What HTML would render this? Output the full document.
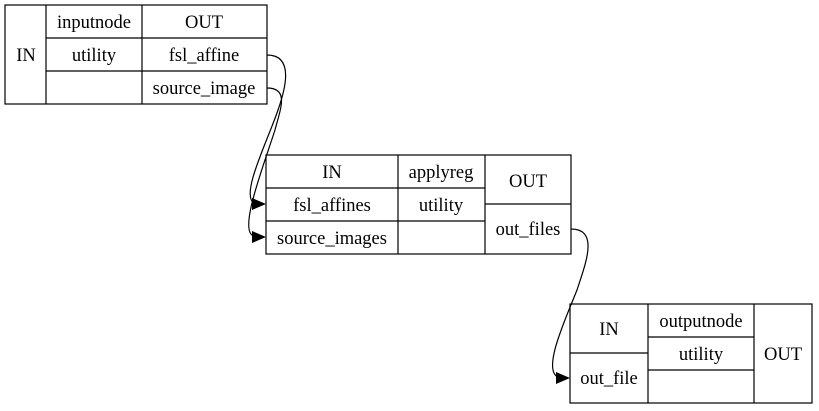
<!DOCTYPE html>
<html><head><meta charset="utf-8"><style>body{margin:0;background:#fff}svg{display:block}text{font-family:"Liberation Serif",serif;font-size:18.5px;text-anchor:middle}</style></head><body>
<svg width="819" height="411" viewBox="0 0 819 411">
<g fill="none" stroke="#000" stroke-width="1.2">
<rect x="5" y="5" width="262" height="99"/>
<path d="M46 5V104M142 5V104M46 38H267M46 71H267"/>
<rect x="266" y="155" width="305" height="99"/>
<path d="M398 155V254M485 155V254M266 188H485M266 221H485M485 204H571"/>
<rect x="570" y="304" width="242" height="99"/>
<path d="M648 304V403M754 304V403M570 353H648M648 337H754M648 370H754"/>
<path d="M267 55C295 55 285 90 278 110C268 140 240 195 254 203"/>
<path d="M267 88C290 88 280 110 275 130C262 170 238 232 254 236"/>
<path d="M571 229C600 229 585 265 577 290C565 320 542 370 558 377"/>
</g>
<g fill="#000">
<polygon points="266,204 252,198 252,210"/>
<polygon points="266,237 252,231 252,243"/>
<polygon points="570,378 556,372 556,384"/>
</g>
<g fill="#000">
<text x="26" y="61">IN</text>
<text x="94" y="28">inputnode</text>
<text x="94" y="61">utility</text>
<text x="204" y="28">OUT</text>
<text x="204" y="61">fsl_affine</text>
<text x="204" y="94">source_image</text>
<text x="332" y="178">IN</text>
<text x="332" y="211">fsl_affines</text>
<text x="332" y="244">source_images</text>
<text x="441" y="178">applyreg</text>
<text x="441" y="211">utility</text>
<text x="528" y="187">OUT</text>
<text x="528" y="235">out_files</text>
<text x="609" y="335">IN</text>
<text x="609" y="384">out_file</text>
<text x="701" y="327">outputnode</text>
<text x="701" y="360">utility</text>
<text x="783" y="360">OUT</text>
</g>
</svg>
</body></html>
